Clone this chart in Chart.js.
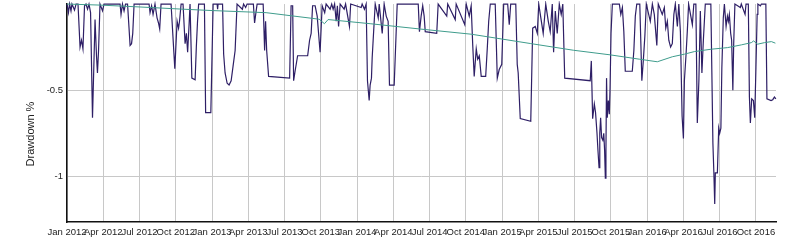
<!DOCTYPE html>
<html>
<head>
<meta charset="utf-8">
<script src="https://cdn.jsdelivr.net/npm/chart.js@4.4.1/dist/chart.umd.min.js"></script>
<style>
    html, body { margin: 0; padding: 0; background: #fff; }
    canvas { display: block; }
</style>
</head>
<body>
<canvas id="chart" width="800" height="243"></canvas>
<script>
// months since Jan 2012 for each point of the drawdown line
const ddMonths = [
    0, 0.12, 0.21, 0.33, 0.41, 0.62, 0.75, 0.91, 1.08, 1.2,
    1.32, 1.45, 1.57, 1.7, 1.82, 1.95, 2.11, 2.32, 2.44, 2.52,
    2.61, 2.73, 2.94, 3.06, 4.39, 4.47, 4.59, 4.72, 4.84, 5.01,
    5.22, 5.34, 5.44, 5.55, 6.79, 6.87, 7.0, 7.12, 7.28, 7.45,
    7.57, 7.67, 7.78, 8.61, 8.92, 9.11, 9.23, 9.31, 9.44, 9.6,
    9.77, 9.88, 9.98, 10.1, 10.18, 10.25, 10.33, 10.6, 10.7, 10.8,
    10.89, 11.37, 11.47, 11.9, 12.09, 12.42, 12.46, 12.5, 12.87, 12.96,
    13.08, 13.25, 13.41, 13.58, 13.74, 13.91, 14.07, 14.51, 14.61, 14.78,
    14.9, 15.42, 15.52, 15.65, 15.73, 16.23, 16.35, 16.43, 16.52, 16.68,
    18.42, 18.54, 18.67, 18.75, 18.87, 19.08, 19.91, 20.07, 20.2, 20.32,
    20.53, 20.7, 20.94, 21.11, 21.32, 21.44, 21.77, 21.9, 22.02, 22.14,
    22.27, 22.37, 22.47, 22.6, 22.93, 23.05, 23.37, 23.47, 24.34, 24.42,
    24.61, 24.75, 24.86, 25.0, 25.08, 25.19, 25.25, 25.33, 25.5, 25.75,
    25.83, 26.08, 26.24, 26.41, 26.57, 26.68, 27.07, 27.32, 29.06, 29.16,
    29.3, 29.43, 29.55, 29.64, 30.59, 30.71, 31.42, 31.5, 32.12, 32.2,
    32.91, 33.03, 33.28, 33.44, 33.57, 33.69, 33.86, 33.98, 34.11, 34.27,
    34.64, 34.77, 34.89, 35.02, 35.43, 35.6, 35.76, 35.97, 36.13, 36.46,
    36.59, 36.71, 37.13, 37.25, 37.33, 37.5, 38.37, 38.53, 38.74, 38.91,
    39.03, 39.4, 39.61, 39.82, 39.98, 40.15, 40.26, 40.4, 40.56, 40.73,
    40.89, 41.02, 41.18, 43.29, 43.38, 43.49, 43.63, 43.73, 43.85, 43.93,
    44.02, 44.08, 44.15, 44.23, 44.33, 44.41, 44.48, 44.54, 44.59, 44.64,
    44.7, 44.79, 44.87, 44.93, 45.01, 45.12, 45.7, 45.82, 45.95, 46.07,
    46.19, 46.77, 46.9, 47.02, 47.14, 47.39, 47.48, 47.56, 47.68, 47.81,
    47.93, 48.26, 48.43, 48.59, 48.8, 48.92, 49.25, 49.42, 49.54, 49.67,
    49.79, 49.94, 50.08, 50.21, 50.33, 50.5, 50.62, 50.75, 50.89, 51.0,
    51.08, 51.22, 51.32, 51.43, 51.74, 51.86, 52.03, 52.15, 52.28, 52.4,
    52.53, 52.65, 52.81, 53.27, 53.44, 53.52, 53.59, 53.64, 53.81, 53.92,
    54.0, 54.1, 54.18, 54.3, 54.39, 54.53, 54.64, 54.72, 54.8, 54.91,
    54.99, 55.09, 55.16, 55.26, 55.71, 55.79, 56.1, 56.18, 56.37, 56.46,
    56.54, 56.65, 56.79, 56.9, 57.0, 57.1, 57.16, 57.37, 57.45, 57.82,
    57.91, 58.25, 58.39, 58.53, 58.65,
];

// drawdown %
const ddValues = [
    0, -0.05, 0, -0.04, 0, -0.035, 0, 0, -0.25, -0.21,
    -0.26, -0.01, 0, -0.03, 0, -0.05, -0.66, -0.09, -0.3, -0.4,
    -0.27, 0, -0.04, 0, 0, -0.06, 0, -0.04, 0, 0,
    -0.24, -0.23, -0.17, 0, 0, -0.05, -0.01, -0.06, 0, -0.08,
    -0.11, -0.145, 0, 0, -0.376, -0.1, -0.14, -0.1, 0, 0,
    -0.23, -0.17, -0.28, -0.12, 0, 0, -0.43, -0.44, -0.25, -0.1,
    0, 0, -0.63, -0.63, 0, 0, -0.03, 0, 0, -0.29,
    -0.4, -0.46, -0.47, -0.445, -0.36, -0.27, 0, -0.03, 0, -0.02,
    0, 0, -0.11, -0.04, 0, 0, -0.27, -0.1, -0.27, -0.42,
    -0.43, -0.01, -0.01, -0.445, -0.39, -0.3, -0.3, -0.21, -0.17, -0.01,
    -0.01, -0.07, -0.28, -0.01, -0.05, 0, -0.03, 0, -0.03, 0,
    -0.1, -0.01, -0.13, 0, -0.03, 0, -0.13, 0, -0.02, 0,
    -0.03, 0, -0.445, -0.56, -0.47, -0.43, -0.31, -0.21, 0, -0.08,
    0, -0.17, 0, -0.07, -0.1, -0.47, -0.47, 0, 0, -0.16,
    -0.07, -0.01, -0.07, -0.16, -0.17, 0, -0.07, 0, -0.09, 0,
    -0.12, 0, -0.07, -0.01, -0.24, -0.42, -0.26, -0.32, -0.3, -0.42,
    -0.42, -0.26, -0.1, 0, 0, -0.43, -0.38, -0.35, 0, 0,
    -0.12, 0, 0, -0.35, -0.4, -0.665, -0.68, -0.14, -0.13, -0.17,
    0, -0.17, 0, -0.1, -0.16, 0, -0.28, -0.04, -0.17, 0,
    -0.06, 0, -0.43, -0.445, -0.33, -0.665, -0.58, -0.63, -0.75, -0.85,
    -0.95, -0.75, -0.66, -0.775, -0.79, -0.75, -0.85, -1.01, -0.85, -0.43,
    -0.66, -0.56, -0.64, -0.49, -0.17, 0, 0, -0.06, -0.02, -0.16,
    -0.39, -0.39, -0.27, -0.07, 0, 0, -0.23, -0.445, -0.33, -0.185,
    0, -0.1, 0, -0.06, -0.24, 0, -0.06, -0.02, -0.14, -0.1,
    -0.21, -0.25, -0.23, -0.06, 0, -0.13, 0, -0.16, -0.65, -0.78,
    -0.445, -0.29, -0.16, 0, -0.12, 0, 0, -0.69, -0.445, -0.04,
    -0.4, -0.21, 0, 0, -0.81, -0.98, -1.16, -0.98, -0.98, -0.72,
    -0.75, -0.72, -0.37, -0.08, 0, -0.13, -0.07, -0.1, -0.06, -0.17,
    -0.21, -0.5, -0.23, 0, -0.02, 0, -0.06, 0, 0, -0.54,
    -0.69, -0.55, -0.56, -0.66, -0.37, -0.06, 0, -0.01, 0, 0,
    -0.55, -0.56, -0.555, -0.54, -0.55,
];

// the slow teal line
const trendMonths = [0, 2.73, 6.04, 9.35, 12.09, 16.47, 20.86, 21.3, 21.6, 25.08,
    29.22, 33.44, 38.33, 41.89, 44.95, 47.35, 48.84, 50.08, 51.08, 51.9,
    53.31, 54.64, 55.79, 56.62, 56.81, 57.14, 57.7, 58.28, 58.61];
const trendValues = [0, -0.006, -0.017, -0.029, -0.038, -0.05, -0.088, -0.114, -0.09, -0.114,
    -0.145, -0.175, -0.229, -0.268, -0.295, -0.32, -0.335, -0.306, -0.291, -0.276,
    -0.262, -0.253, -0.237, -0.224, -0.214, -0.233, -0.224, -0.218, -0.227];

const tickMonths = [0, 3, 6, 9, 12, 15, 18, 21, 24, 27, 30, 33, 36, 39, 42, 45, 48, 51, 54, 57];
const tickLabels = [
    "Jan 2012", "Apr 2012", "Jul 2012", "Oct 2012",
    "Jan 2013", "Apr 2013", "Jul 2013", "Oct 2013",
    "Jan 2014", "Apr 2014", "Jul 2014", "Oct 2014",
    "Jan 2015", "Apr 2015", "Jul 2015", "Oct 2015",
    "Jan 2016", "Apr 2016", "Jul 2016", "Oct 2016",
];
const yTicks = [-1, -0.5];
const yTitle = "Drawdown %";

const FONT = '"Liberation Sans", Arial, sans-serif';

const toPoints = (xs, ys) => {
    const n = Math.min(xs.length, ys.length);
    const pts = [];
    for (let i = 0; i < n; i++) pts.push({ x: xs[i], y: ys[i] });
    return pts;
};

// rotated y title, sits a bit below the axis centre like the original
const yTitlePlugin = {
    id: "yTitle",
    afterDraw: (chart) => {
        const ctx = chart.ctx;
        ctx.save();
        ctx.translate(31, 134);
        ctx.rotate(-Math.PI / 2);
        ctx.font = "11px " + FONT;
        ctx.fillStyle = "#222";
        ctx.textAlign = "center";
        ctx.textBaseline = "middle";
        ctx.fillText(yTitle, 0, 0);
        ctx.restore();
    },
};

new Chart(document.getElementById("chart"), {
    type: "line",
    data: {
        datasets: [
            {
                label: "trend",
                data: toPoints(trendMonths, trendValues),
                borderColor: "#3f9c8c",
                borderWidth: 1,
                order: 0,
            },
            {
                label: "drawdown",
                data: toPoints(ddMonths, ddValues),
                borderColor: "#2e1f66",
                borderWidth: 1.2,
                order: 1,
            },
        ],
    },
    options: {
        responsive: false,
        animation: false,
        devicePixelRatio: 1,
        layout: {
            padding: { top: 3, right: 24, bottom: 0, left: 0 },
        },
        elements: {
            line: { tension: 0, fill: false },
            point: { radius: 0 },
        },
        clip: 3,
        plugins: {
            legend: { display: false },
            tooltip: { enabled: false },
        },
        scales: {
            x: {
                type: "linear",
                min: 0,
                max: 58.66,
                afterFit: (scale) => {
                    scale.height = 21;
                },
                afterBuildTicks: (scale) => {
                    scale.ticks = tickMonths.map((v) => ({ value: v }));
                },
                grid: {
                    color: "#c8c8c8",
                    lineWidth: 1,
                    drawTicks: false,
                },
                border: { color: "#111", width: 1.5 },
                ticks: {
                    autoSkip: false,
                    maxRotation: 0,
                    minRotation: 0,
                    padding: 5,
                    color: "#222",
                    font: { family: FONT, size: 9.5 },
                    callback: (val, i) => tickLabels[i],
                },
            },
            y: {
                min: -1.265,
                max: 0,
                afterFit: (scale) => {
                    scale.width = 67;
                },
                afterBuildTicks: (scale) => {
                    scale.ticks = yTicks.map((v) => ({ value: v }));
                },
                grid: {
                    color: "#c8c8c8",
                    lineWidth: 1,
                    drawTicks: false,
                },
                border: { color: "#111", width: 1.5 },
                ticks: {
                    padding: 4,
                    color: "#222",
                    // tiny line height so the scale adds no extra top padding
                    font: { family: FONT, size: 9.5, lineHeight: 0.01 },
                    callback: (val) => String(val),
                },
            },
        },
    },
    plugins: [yTitlePlugin],
});
</script>
</body>
</html>
